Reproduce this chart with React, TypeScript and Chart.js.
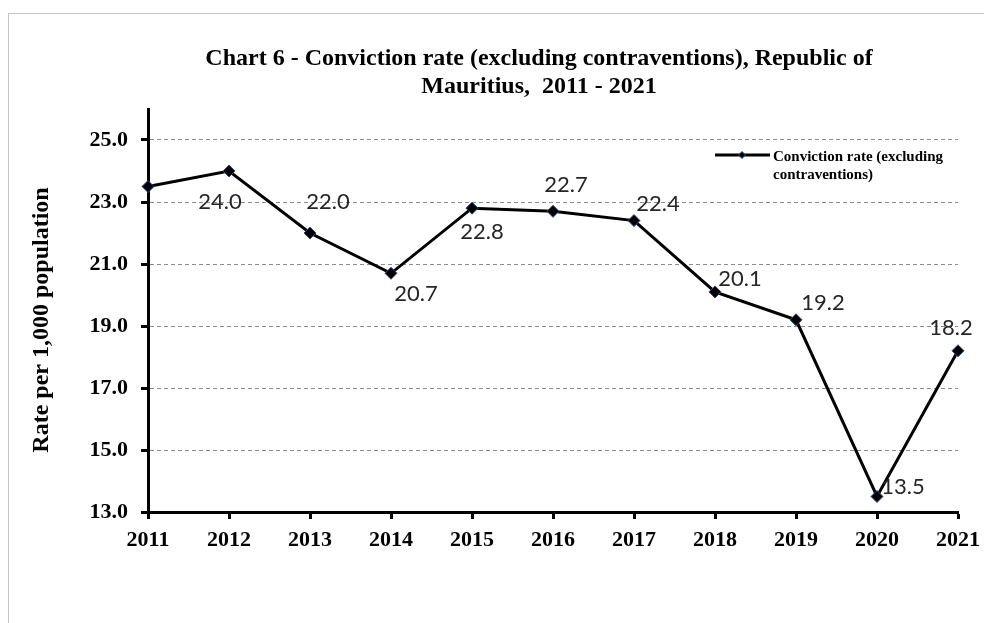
import React, { useEffect, useRef } from "react";
import { Chart, registerables } from "chart.js";

Chart.register(...registerables);

const YEARS = ["2011", "2012", "2013", "2014", "2015", "2016", "2017", "2018", "2019", "2020", "2021"];
const RATES = [23.5, 24.0, 22.0, 20.7, 22.8, 22.7, 22.4, 20.1, 19.2, 13.5, 18.2];
const Y_TICKS = [13, 15, 17, 19, 21, 23, 25];
const Y_MIN = 13;
const Y_MAX = 26;
const TITLE_LINES = ["Chart 6 - Conviction rate (excluding contraventions), Republic of", "Mauritius,  2011 - 2021"];
const Y_TITLE = "Rate per 1,000 population";
const LEGEND_LINES = ["Conviction rate (excluding", "contraventions)"];
const SHOW_LABEL = [false, true, true, true, true, true, true, true, true, true, true];

// label placement (style): offset of label centre from the point, px
const LABEL_OFFSETS: [number, number][] = [
  [0, 0], [-9, 31], [18, -31], [25, 21], [10, 24], [13, -26], [24, -17], [25, -13], [27, -17], [26, -10], [-7, -23],
];

const SERIF = "'Liberation Serif', 'Times New Roman', serif";
const SANS = "Lato, 'Open Sans', sans-serif";

const CW = 975;
const CH = 609;
const AREA = { left: 139, right: 949, top: 95, bottom: 498 };

const overlay = {
  id: "overlay",
  afterDatasetsDraw(chart: any) {
    const ctx = chart.ctx as CanvasRenderingContext2D;
    const meta = chart.getDatasetMeta(0);
    ctx.save();
    ctx.fillStyle = "#262626";
    ctx.font = `22px ${SANS}`;
    ctx.textAlign = "center";
    ctx.textBaseline = "middle";
    meta.data.forEach((pt: any, i: number) => {
      if (!SHOW_LABEL[i]) return;
      const [dx, dy] = LABEL_OFFSETS[i];
      ctx.fillText(RATES[i].toFixed(1), pt.x + dx, pt.y + dy);
    });
    ctx.restore();
  },
  afterDraw(chart: any) {
    const ctx = chart.ctx as CanvasRenderingContext2D;
    ctx.save();
    ctx.fillStyle = "#000";
    ctx.textAlign = "center";
    ctx.textBaseline = "middle";
    ctx.font = `bold 24px ${SERIF}`;
    ctx.fillText(TITLE_LINES[0], 530, 45);
    ctx.fillText(TITLE_LINES[1], 530, 73);

    ctx.save();
    ctx.translate(33, 306);
    ctx.rotate(-Math.PI / 2);
    ctx.fillText(Y_TITLE, 0, 0);
    ctx.restore();

    // legend
    ctx.strokeStyle = "#000";
    ctx.lineWidth = 3;
    ctx.beginPath();
    ctx.moveTo(706, 141);
    ctx.lineTo(761, 141);
    ctx.stroke();
    const cx = 733, cy = 141, r = 3.5;
    ctx.beginPath();
    ctx.moveTo(cx, cy - r);
    ctx.lineTo(cx + r, cy);
    ctx.lineTo(cx, cy + r);
    ctx.lineTo(cx - r, cy);
    ctx.closePath();
    ctx.fillStyle = "#000";
    ctx.fill();
    ctx.lineWidth = 1;
    ctx.strokeStyle = "#2a4a8a";
    ctx.stroke();

    ctx.fillStyle = "#000";
    ctx.textAlign = "left";
    ctx.font = `bold 15px ${SERIF}`;
    ctx.fillText(LEGEND_LINES[0], 764, 143);
    ctx.fillText(LEGEND_LINES[1], 764, 161);
    ctx.restore();
  },
};

export default function App() {
  const ref = useRef<HTMLCanvasElement | null>(null);

  useEffect(() => {
    document.body.style.margin = "0";
    const canvas = ref.current;
    if (!canvas) return;
    const chart = new Chart(canvas, {
      type: "line",
      data: {
        labels: YEARS,
        datasets: [
          {
            label: "Conviction rate (excluding contraventions)",
            data: RATES,
            borderColor: "#000",
            borderWidth: 3,
            tension: 0,
            pointStyle: "rectRot",
            pointRadius: 6,
            pointBackgroundColor: "#000",
            pointBorderColor: "#2a4a8a",
            pointBorderWidth: 1,
            clip: false,
          } as any,
        ],
      },
      options: {
        animation: false,
        responsive: false,
        devicePixelRatio: 1,
        layout: { padding: { left: 0, top: AREA.top, right: CW - AREA.right, bottom: 0 } },
        plugins: {
          legend: { display: false },
          title: { display: false },
          tooltip: { enabled: false },
        },
        scales: {
          x: {
            type: "category",
            offset: false,
            afterFit: (s: any) => {
              s.height = CH - AREA.bottom;
              s.paddingLeft = 0;
              s.paddingRight = 0;
            },
            grid: {
              drawOnChartArea: false,
              drawTicks: true,
              tickLength: 7,
              tickColor: "#000",
              tickWidth: 3,
              tickBorderDash: [],
            },
            border: { display: true, color: "#000", width: 3 },
            ticks: {
              color: "#000",
              padding: 8,
              maxRotation: 0,
              autoSkip: false,
              font: { family: SERIF, size: 22, weight: "bold" },
            },
          },
          y: {
            type: "linear",
            min: Y_MIN,
            max: Y_MAX,
            afterFit: (s: any) => {
              s.width = AREA.left;
              s.paddingTop = 0;
              s.paddingBottom = 0;
            },
            afterBuildTicks: (s: any) => {
              s.ticks = Y_TICKS.map((v) => ({ value: v }));
            },
            grid: {
              color: "#8c8c8c",
              lineWidth: 1,
              drawTicks: true,
              tickLength: 7,
              tickColor: "#000",
              tickWidth: 3,
              tickBorderDash: [],
            },
            border: { display: true, color: "#000", width: 3, dash: [4, 3] },
            ticks: {
              color: "#000",
              padding: 13,
              callback: (v: any) => Number(v).toFixed(1),
              font: { family: SERIF, size: 22, weight: "bold" },
            },
          },
        },
      } as any,
      plugins: [overlay],
    });
    return () => chart.destroy();
  }, []);

  return (
    <div style={{ paddingTop: 13, paddingLeft: 8 }}>
      <div
        style={{
          borderTop: "1px solid #c4c4c4",
          borderLeft: "1px solid #c4c4c4",
          width: CW,
          height: CH,
        }}
      >
        <canvas ref={ref} width={CW} height={CH} style={{ display: "block" }} />
      </div>
    </div>
  );
}
